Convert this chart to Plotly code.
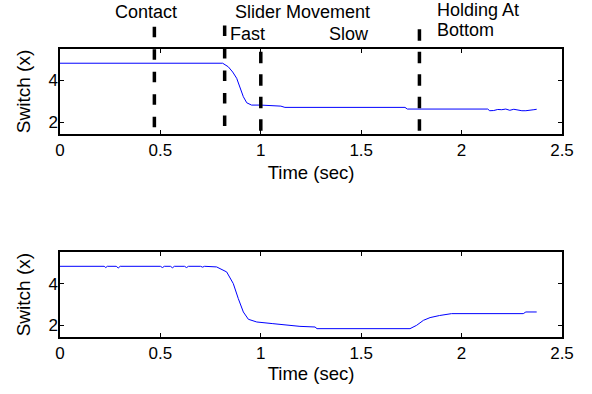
import plotly.graph_objects as go
from plotly.subplots import make_subplots

# Top trace (time, switch)
t_top = [0.0, 0.81, 0.838, 0.86, 0.88, 0.896, 0.913, 0.93, 0.954, 1.0, 1.10, 1.12, 1.18, 1.50, 1.718, 1.73,
         1.90, 2.13, 2.14, 2.16, 2.18, 2.20, 2.22, 2.24, 2.26, 2.28, 2.30, 2.32, 2.34, 2.36, 2.374]
y_top = [4.82, 4.82, 4.65, 4.40, 4.10, 3.62, 3.22, 2.93, 2.82, 2.82, 2.77, 2.71, 2.71, 2.71, 2.71, 2.63,
         2.63, 2.63, 2.55, 2.56, 2.61, 2.60, 2.63, 2.57, 2.62, 2.58, 2.55, 2.55, 2.56, 2.60, 2.62]

# Bottom trace
t_bot = [0.0, 0.22, 0.228, 0.236, 0.28, 0.29, 0.30, 0.50, 0.51, 0.52, 0.55, 0.56, 0.57, 0.62, 0.63, 0.64,
         0.70, 0.71, 0.72, 0.78, 0.83, 0.863, 0.888, 0.913, 0.938, 0.98, 1.06, 1.195, 1.27, 1.28, 1.743,
         1.776, 1.81, 1.843, 1.89, 1.95, 2.307, 2.32, 2.374]
y_bot = [4.83, 4.83, 4.77, 4.83, 4.83, 4.75, 4.83, 4.83, 4.77, 4.83, 4.83, 4.76, 4.83, 4.83, 4.77, 4.83,
         4.83, 4.79, 4.83, 4.80, 4.56, 4.00, 3.28, 2.64, 2.29, 2.16, 2.08, 1.95, 1.92, 1.84, 1.84,
         2.00, 2.24, 2.37, 2.47, 2.56, 2.56, 2.64, 2.64]

# Event markers (time of dashed lines)
event_times = [0.47, 0.82, 1.0, 1.79]

x_ticks = [0, 0.5, 1, 1.5, 2, 2.5]
x_tick_labels = ["0", "0.5", "1", "1.5", "2", "2.5"]
y_ticks = [2, 4]

FONT = "Liberation Sans, Arial, Helvetica, sans-serif"
TICK_FS = 17
TITLE_FS = 18.5
YTITLE_FS = 19
ANN_FS = 18

fig = make_subplots(rows=2, cols=1, vertical_spacing=0.0)

fig.add_trace(go.Scatter(x=t_top, y=y_top, mode="lines", line=dict(color="#0000ff", width=1),
                         showlegend=False), row=1, col=1)
fig.add_trace(go.Scatter(x=t_bot, y=y_bot, mode="lines", line=dict(color="#0000ff", width=1),
                         showlegend=False), row=2, col=1)

axis_common = dict(showline=True, linecolor="black", linewidth=1.5, mirror="ticks",
                   ticks="inside", ticklen=4, tickcolor="black", tickwidth=1,
                   showgrid=False, zeroline=False,
                   tickfont=dict(family=FONT, size=TICK_FS, color="black"))

for r, st in ((1, 7), (2, 2)):
    fig.update_xaxes(range=[0, 2.5], tickvals=x_ticks, ticktext=x_tick_labels,
                     title=dict(text="Time (sec)", font=dict(family=FONT, size=TITLE_FS, color="black"),
                                standoff=st),
                     row=r, col=1, **axis_common)
    fig.update_yaxes(range=[1.44, 5.5], tickvals=y_ticks, ticklabelstandoff=-3,
                     title=dict(text="Switch (x)", font=dict(family=FONT, size=YTITLE_FS, color="black"),
                                standoff=13),
                     row=r, col=1, **axis_common)

fig.update_layout(
    yaxis=dict(domain=[0.705, 1.0]),
    yaxis2=dict(domain=[0.0, 0.294]),
    xaxis=dict(anchor="y"),
    xaxis2=dict(anchor="y2"),
)

# Plot area spans y 49..337 (288 px)
def paper_y(py):
    return (337.0 - py) / 288.0

# Dashed vertical event lines: (top pixel, bottom pixel, dash)
line_styles = [
    (26.7, 128.5, "10.5px,12px"),
    (25.5, 127.0, "10.5px,12px"),
    (51.7, 131.0, "11.5px,11px"),
    (29.3, 131.0, "11.5px,11px"),
]
for tx, (ptop, pbot, dash) in zip(event_times, line_styles):
    fig.add_shape(type="line", xref="x", yref="paper", x0=tx, x1=tx, y0=paper_y(ptop), y1=paper_y(pbot),
                  line=dict(color="black", width=3.5, dash=dash))

ann_font = dict(family=FONT, size=ANN_FS, color="black")
labels = [
    ("Contact", 0.426, 1.128, "center"),
    ("Slider Movement", 0.862, 1.128, "left"),
    ("Fast", 0.835, 1.052, "left"),
    ("Slow", 1.328, 1.052, "left"),
    ("Holding At", 1.867, 1.135, "left"),
    ("Bottom", 1.867, 1.066, "left"),
]
for text, ax_x, py, xa in labels:
    fig.add_annotation(text=text, x=ax_x, y=py, xref="x", yref="paper", xanchor=xa, yanchor="middle",
                       showarrow=False, font=ann_font)

fig.update_layout(
    width=592, height=394,
    margin=dict(l=60, r=30, t=49, b=57),
    paper_bgcolor="white", plot_bgcolor="white",
    font=dict(family=FONT, size=TICK_FS, color="black"),
)

fig.write_html("out.html", config={"displayModeBar": False},
               post_script="document.body.style.margin='0';")
